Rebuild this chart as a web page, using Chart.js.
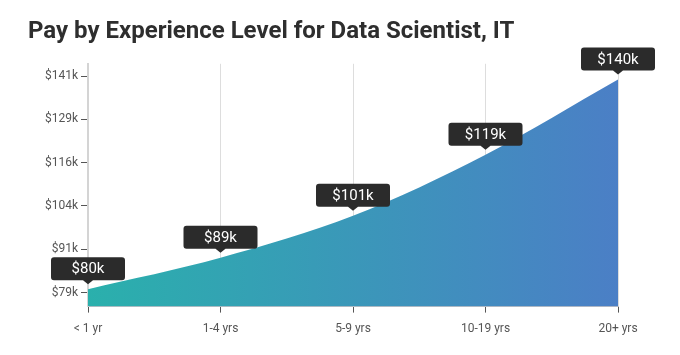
<!DOCTYPE html>
<html>
<head>
<meta charset="utf-8">
<script src="https://cdn.jsdelivr.net/npm/chart.js@4"></script>
<style>
html,body{margin:0;padding:0;background:#fff;}
#wrap{position:relative;width:680px;height:355px;}
</style>
</head>
<body>
<div id="wrap"><canvas id="c" width="680" height="355"></canvas></div>
<script>
const experience = ['< 1 yr', '1-4 yrs', '5-9 yrs', '10-19 yrs', '20+ yrs'];
const pay = [80, 89, 101, 118.5, 140];
const payLabels = ['$80k', '$89k', '$101k', '$119k', '$140k'];
const yTickValues = [79, 91.4, 103.8, 116.2, 128.6, 141];
const yTickLabels = ['$79k', '$91k', '$104k', '$116k', '$129k', '$141k'];
const titleText = 'Pay by Experience Level for Data Scientist, IT';

const valueBoxes = {
  id: 'valueBoxes',
  afterDatasetsDraw(chart) {
    const ctx = chart.ctx;
    const meta = chart.getDatasetMeta(0);
    ctx.save();
    meta.data.forEach((pt, i) => {
      const x = pt.x, y = pt.y;
      const w = 74, h = 23, r = 3;
      const bottom = y - 9, top = bottom - h, left = x - w / 2;
      ctx.fillStyle = '#2b2b2b';
      ctx.beginPath();
      ctx.moveTo(left + r, top);
      ctx.lineTo(left + w - r, top);
      ctx.quadraticCurveTo(left + w, top, left + w, top + r);
      ctx.lineTo(left + w, bottom - r);
      ctx.quadraticCurveTo(left + w, bottom, left + w - r, bottom);
      ctx.lineTo(x + 5, bottom);
      ctx.lineTo(x, bottom + 4);
      ctx.lineTo(x - 5, bottom);
      ctx.lineTo(left + r, bottom);
      ctx.quadraticCurveTo(left, bottom, left, bottom - r);
      ctx.lineTo(left, top + r);
      ctx.quadraticCurveTo(left, top, left + r, top);
      ctx.closePath();
      ctx.fill();
      ctx.fillStyle = '#ffffff';
      ctx.font = '15px Roboto';
      ctx.textAlign = 'center';
      ctx.textBaseline = 'middle';
      ctx.fillText(payLabels[i], x, top + h / 2 + 1);
    });
    ctx.restore();
  }
};

new Chart(document.getElementById('c'), {
  type: 'line',
  data: {
    labels: experience,
    datasets: [{
      data: pay,
      fill: 'start',
      borderWidth: 0,
      pointRadius: 0,
      cubicInterpolationMode: 'monotone',
      backgroundColor(ctx) {
        const ca = ctx.chart.chartArea;
        if (!ca) return '#3797b8';
        const g = ctx.chart.ctx.createLinearGradient(ca.left, 0, ca.right, 0);
        g.addColorStop(0, '#2ab0ac');
        g.addColorStop(1, '#4b7fc6');
        return g;
      }
    }]
  },
  plugins: [valueBoxes],
  options: {
    responsive: false,
    animation: false,
    layout: { padding: { left: 28, right: 62, top: 0, bottom: 10 } },
    plugins: {
      legend: { display: false },
      tooltip: { enabled: false },
      title: {
        display: true,
        text: titleText,
        align: 'start',
        color: '#2e2e2e',
        font: { family: 'Roboto', size: 24, weight: 'bold' },
        padding: { top: 18, bottom: 17 }
      }
    },
    scales: {
      x: {
        offset: false,
        grid: { color: '#dddddd', lineWidth: 1, tickColor: '#555555', tickLength: 6, drawOnChartArea: true },
        border: { display: true, color: 'rgba(60,70,90,0.35)', width: 1 },
        ticks: { color: '#555555', padding: 9, font: { family: 'Roboto', size: 12 }, maxRotation: 0 }
      },
      y: {
        min: 75,
        max: 144.5,
        afterBuildTicks(scale) { scale.ticks = yTickValues.map(v => ({ value: v })); },
        afterFit(scale) { scale.width = 60; },
        grid: { drawOnChartArea: false, tickColor: '#555555', tickLength: 7 },
        border: { display: true, color: '#d4d4d4', width: 2 },
        ticks: {
          color: '#555555', padding: 3, font: { family: 'Roboto', size: 12 },
          callback(v, i) { return yTickLabels[i]; }
        }
      }
    }
  }
});
</script>
</body>
</html>
